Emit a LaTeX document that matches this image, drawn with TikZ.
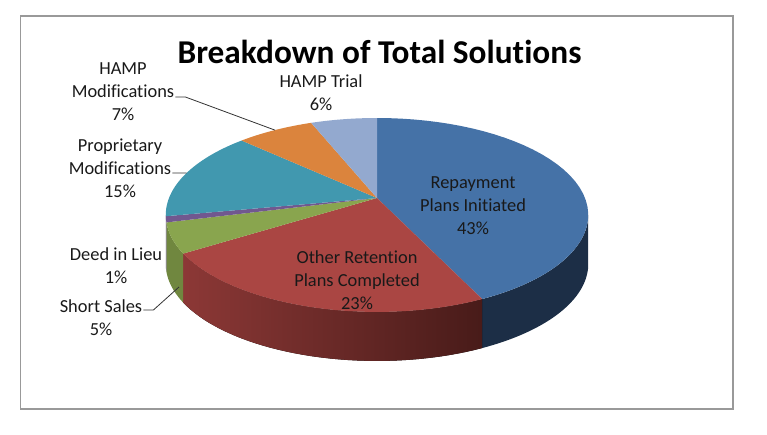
\documentclass[tikz,border=0pt]{standalone}
\usepackage{fontspec}
\setmainfont{Carlito}[Ligatures=CommonOff]
\definecolor{repaytop}{RGB}{69,114,167}
\definecolor{repayside}{RGB}{28,46,70}
\definecolor{othertop}{RGB}{170,70,67}
\definecolor{otherleft}{RGB}{140,56,54}
\definecolor{otherright}{RGB}{72,27,25}
\definecolor{shorttop}{RGB}{137,165,78}
\definecolor{shortside}{RGB}{112,135,63}
\definecolor{deedtop}{RGB}{113,88,143}
\definecolor{deedside}{RGB}{90,70,115}
\definecolor{proptop}{RGB}{65,152,175}
\definecolor{hmodtop}{RGB}{219,132,61}
\definecolor{trialtop}{RGB}{147,169,207}
\begin{document}
\begin{tikzpicture}[x=1pt,y=-1pt,
	declare function={px(\t)=377+208*cos(\t)/(1+0.175*sin(\t));py(\t)=198-94*sin(\t)/(1+0.175*sin(\t));},
	rim/.style={domain=#1,variable=\t,samples=40},
	lbl/.style={align=center,inner sep=1pt,text=black!90,font=\fontsize{18.4}{23}\selectfont},
	leader/.style={draw=black!80,line width=0.8pt}]
\useasboundingbox (0,0) rectangle (767,434);
\draw[black!40,line width=1.2pt] (20.5,16) rectangle (733,409);
\node[inner sep=0,font=\bfseries\fontsize{33.3}{40}\selectfont] (title) at (379.5,51.5) {Breakdown of Total Solutions};
\fill[repayside] plot[rim=-64.8:-10.08] ({px(\t)},{py(\t)}) -- plot[rim=-10.08:-64.8] ({px(\t)},{py(\t)+49}) -- cycle;
\fill[left color=otherleft,right color=otherright] plot[rim=-147.6:-64.8] ({px(\t)},{py(\t)}) -- plot[rim=-64.8:-147.6] ({px(\t)},{py(\t)+49}) -- cycle;
\fill[shortside] plot[rim=-165.6:-147.6] ({px(\t)},{py(\t)}) -- plot[rim=-147.6:-165.6] ({px(\t)},{py(\t)+49}) -- cycle;
\fill[deedside] plot[rim=-169.92:-165.6] ({px(\t)},{py(\t)}) -- plot[rim=-165.6:-169.92] ({px(\t)},{py(\t)+49}) -- cycle;
\coordinate (hub) at (377,198);
\foreach \a/\b/\c in {-64.8/90/repaytop,-147.6/-64.8/othertop,-165.6/-147.6/shorttop,-169.2/-165.6/deedtop,136.8/190.8/proptop,111.6/136.8/hmodtop,90/111.6/trialtop}
	\fill[\c] (hub) -- plot[rim=\a:\b] ({px(\t)},{py(\t)}) -- cycle;
\node[lbl] (repay) at (473,206) {Repayment\\Plans Initiated\\43\%};
\node[lbl] (other) at (357,280) {Other Retention\\Plans Completed\\23\%};
\node[lbl] (trial) at (321,93) {HAMP Trial\\6\%};
\node[lbl] (hmod) at (123,92) {HAMP\\Modifications\\7\%};
\node[lbl] (prop) at (120,168) {Proprietary\\Modifications\\15\%};
\node[lbl] (deed) at (116,266) {Deed in Lieu\\1\%};
\node[lbl] (short) at (101,318) {Short Sales\\5\%};
\coordinate (hmodrim) at ({px(124.2)},{py(124.2)});
\coordinate (proprim) at ({px(163.8)},{py(163.8)});
\coordinate (shortrim) at (179,287);
\draw[leader] ([yshift=-5pt]hmod.east) -- ++(10,0) -- (hmodrim);
\draw[leader] ([yshift=-5pt]prop.east) -- (proprim);
\draw[leader] ([yshift=8pt]short.east) -- ++(10,0) -- (shortrim);
\end{tikzpicture}
\end{document}
